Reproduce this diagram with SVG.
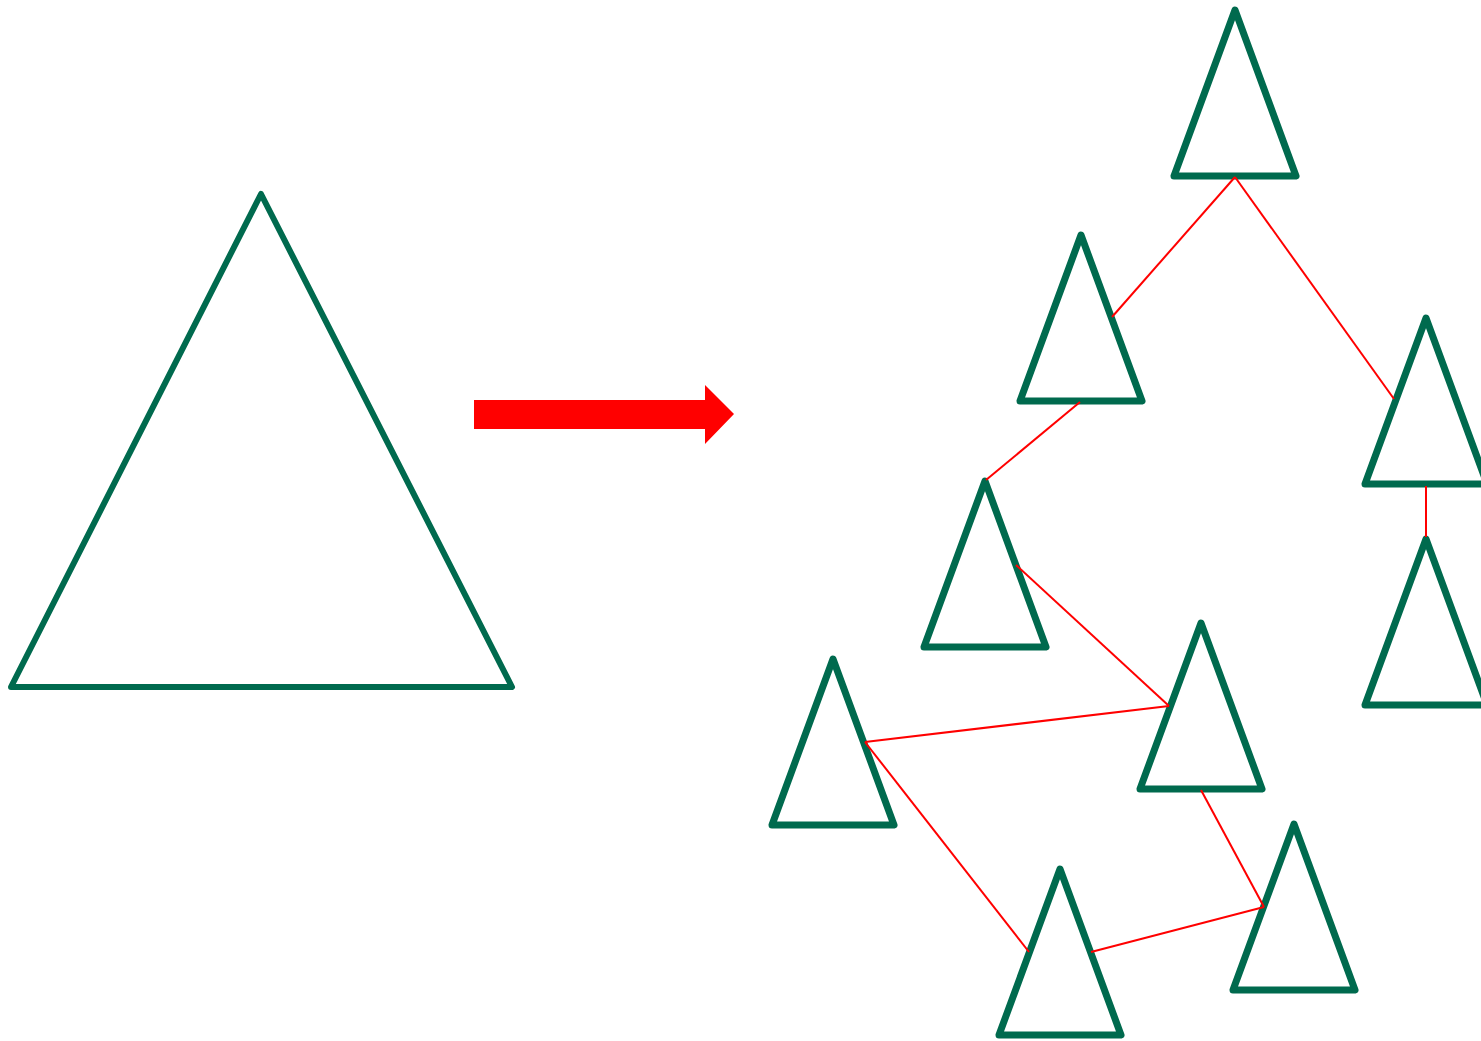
<svg xmlns="http://www.w3.org/2000/svg" width="1481" height="1041" viewBox="0 0 1481 1041">
<style>
.tri{fill:none;stroke:#006A4E;stroke-width:6;stroke-linejoin:round;stroke-linecap:round}
.sm{stroke-width:7}
.con{fill:none;stroke:#FF0000;stroke-width:2}
</style>
<defs>
<path id="st" d="M0,0 L61,166 L-61,166 Z"/>
</defs>
<rect width="1481" height="1041" fill="#FFFFFF"/>
<g id="big-triangle"><path class="tri" d="M261,194 L512,687 L11,687 Z"/></g>
<g id="arrow"><path d="M474,400 L705,400 L705,385 L734,414 L705,444 L705,429 L474,429 Z" fill="#FF0000"/></g>
<g id="t1"><use href="#st" class="tri sm" x="1235" y="10"/></g>
<g id="t2"><use href="#st" class="tri sm" x="1081" y="235"/></g>
<g id="t3"><use href="#st" class="tri sm" x="1426" y="318"/></g>
<g id="t4"><use href="#st" class="tri sm" x="985" y="481"/></g>
<g id="t5"><use href="#st" class="tri sm" x="1426" y="539"/></g>
<g id="t6"><use href="#st" class="tri sm" x="1201" y="623"/></g>
<g id="t7"><use href="#st" class="tri sm" x="833" y="659"/></g>
<g id="t8"><use href="#st" class="tri sm" x="1294" y="824"/></g>
<g id="t9"><use href="#st" class="tri sm" x="1060" y="869"/></g>
<g id="connectors">
<line class="con" x1="1235" y1="177" x2="1112" y2="317"/>
<line class="con" x1="1235" y1="177" x2="1394" y2="399"/>
<line class="con" x1="1080" y1="402" x2="986" y2="480"/>
<line class="con" x1="1426" y1="486" x2="1426" y2="537"/>
<line class="con" x1="1016" y1="565" x2="1169" y2="706"/>
<line class="con" x1="1169" y1="706" x2="865" y2="742"/>
<line class="con" x1="865" y1="742" x2="1029" y2="952"/>
<line class="con" x1="1201" y1="790" x2="1264" y2="907"/>
<line class="con" x1="1264" y1="907" x2="1091" y2="952"/>
</g>
</svg>
